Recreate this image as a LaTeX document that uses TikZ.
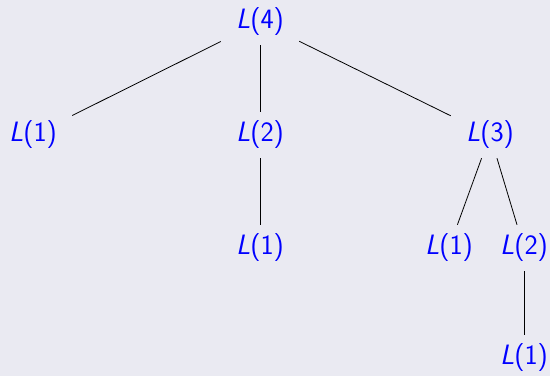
\documentclass[tikz,border=0pt]{standalone}
\definecolor{bgc}{HTML}{EAEAF2}
\definecolor{tblue}{HTML}{0000FF}
\begin{document}
\begin{tikzpicture}[x=1pt,y=-1pt,
  lbl/.style={text=tblue,font=\fontsize{28}{32}\selectfont\sffamily,minimum width=78pt,minimum height=46pt,inner sep=0pt},
  edge/.style={draw=black,line width=0.8pt}]
\fill[bgc] (0,0) rectangle (550,376);
\useasboundingbox (0,0) rectangle (550,376);
\node[lbl] (a) at (260,22) {\textit{L}(4)};
\node[lbl] (b) at (33,135) {\textit{L}(1)};
\node[lbl] (c) at (260,135) {\textit{L}(2)};
\node[lbl] (d) at (490,135) {\textit{L}(3)};
\node[lbl] (e) at (260,248) {\textit{L}(1)};
\node[lbl] (f) at (449,248) {\textit{L}(1)};
\node[lbl] (g) at (524,248) {\textit{L}(2)};
\node[lbl] (h) at (524,358) {\textit{L}(1)};
\draw[edge] (a) -- (b);
\draw[edge] (a) -- (c);
\draw[edge] (a) -- (d);
\draw[edge] (c) -- (e);
\draw[edge] (d) -- (f);
\draw[edge] (d) -- (g);
\draw[edge] (g) -- (h);
\end{tikzpicture}
\end{document}
